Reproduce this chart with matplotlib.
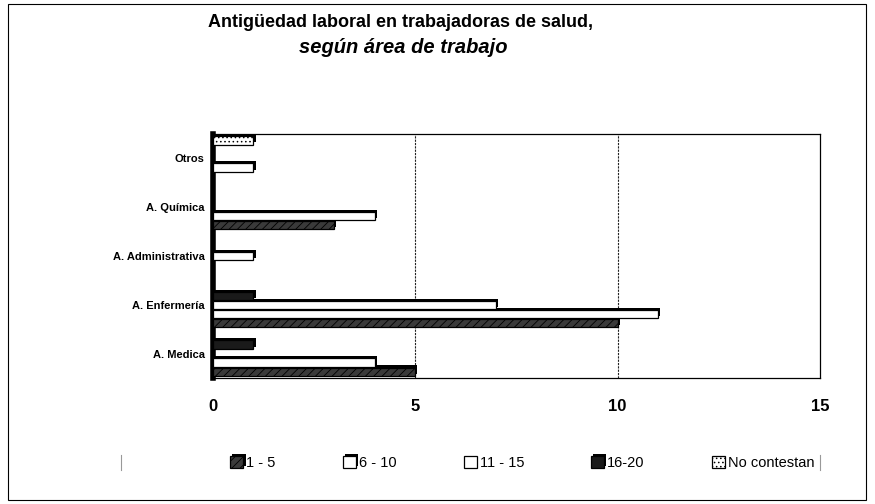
import matplotlib
matplotlib.use('Agg')
import matplotlib.pyplot as plt
import matplotlib.patheffects as pe
from matplotlib.patches import Rectangle
from matplotlib.lines import Line2D
import numpy as np

plt.rcParams['font.family'] = ['Liberation Sans', 'DejaVu Sans']
plt.rcParams['hatch.linewidth'] = 0.6

# datos
areas = ['A. Medica', 'A. Enfermería', 'A. Administrativa', 'A. Química', 'Otros']
series = ['1 - 5', '6 - 10', '11 - 15', '16-20', 'No contestan']
s1_5 = [5, 10, 0, 3, 0]
s6_10 = [4, 11, 0, 4, 1]
s11_15 = [0, 7, 1, 0, 0]
s16_20 = [1, 1, 0, 0, 0]
no_contestan = [0, 0, 0, 0, 1]
valores = [s1_5, s6_10, s11_15, s16_20, no_contestan]

# estilo de cada serie (relleno, trama)
estilos = [('#3a3a3a', '////'), ('white', ''), ('white', ''), ('#1a1a1a', ''), ('white', '....')]

fig = plt.figure(figsize=(8.75, 5.04), dpi=100)
ax = fig.add_axes([0.2434, 0.25, 0.6937, 0.484])

y = np.arange(len(areas))
alto = 0.17
sombra = [pe.SimplePatchShadow(offset=(1.5, 1.5), shadow_rgbFace='black', alpha=1), pe.Normal()]
for i, (vals, (fc, hatch)) in enumerate(zip(valores, estilos)):
    bars = ax.barh(y + (i - 2) * 0.185, vals, height=alto, color=fc, hatch=hatch,
                   edgecolor='black', linewidth=0.9, label=series[i], zorder=3)
    for b in bars:
        if b.get_width() > 0:
            b.set_path_effects(sombra)

ax.set_xlim(0, 15)
ax.set_ylim(-0.5, 4.5)
ax.set_xticks([0, 5, 10, 15])
ax.set_yticks(y)
ax.set_yticklabels(areas, fontsize=8, fontweight='bold')
ax.tick_params(axis='x', length=0, pad=15, labelsize=12)
ax.tick_params(axis='y', length=0, pad=6)
for lab in ax.get_xticklabels():
    lab.set_fontweight('bold')

# lineas de division verticales
for xv in [5, 10]:
    ax.axvline(xv, color='#222222', lw=0.8, ls=(0, (2, 1)), zorder=1)

for s in ax.spines.values():
    s.set_color('black')
    s.set_linewidth(0.9)
ax.spines['left'].set_linewidth(4)

# titulo
fig.text(0.458, 0.956, 'Antigüedad laboral en trabajadoras de salud,', ha='center', va='center',
         fontsize=13, fontweight='bold')
fig.text(0.461, 0.905, 'según área de trabajo', ha='center', va='center',
         fontsize=14.5, fontweight='bold', style='italic')

# leyenda
fig.legend(loc='center', bbox_to_anchor=(0.597, 0.081), ncol=5, fontsize=10.5,
           frameon=False, handlelength=0.9, handleheight=0.9, handletextpad=0.2,
           columnspacing=4.6)
for xp in [121, 820]:
    fig.lines.append(Line2D([xp / 875, xp / 875], [1 - 455 / 504, 1 - 470 / 504],
                            transform=fig.transFigure, color='#999999', lw=0.8))

# marco exterior
fig.patches.append(Rectangle((8 / 875, 4 / 504), 858 / 875, 496 / 504, transform=fig.transFigure,
                             fill=False, edgecolor='black', linewidth=0.8))

fig.savefig('out.png', dpi=100)
